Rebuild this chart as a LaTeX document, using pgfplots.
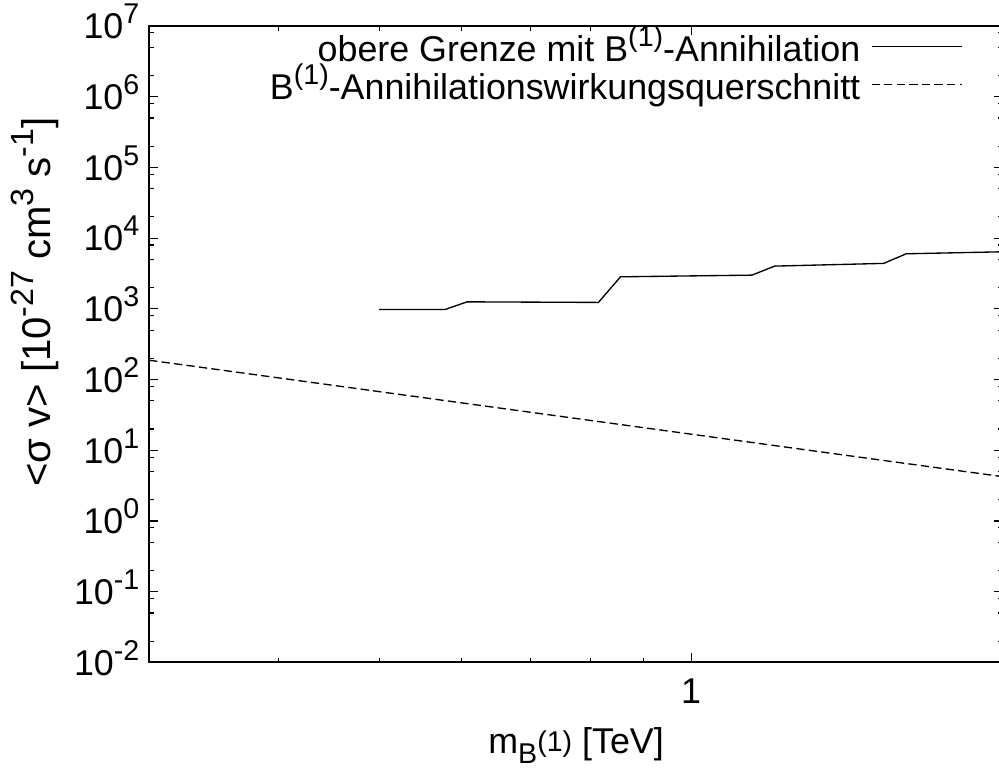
\documentclass[12pt,border=0pt]{standalone}
\usepackage{fontspec}
\setmainfont{Liberation Sans}
\usepackage{pgfplots}
\pgfplotsset{compat=1.18}
% gnuplot-like raised and lowered text
\newcommand{\sps}[1]{\raisebox{0.42em}{\fontsize{10.7pt}{11pt}\selectfont #1}}
\newcommand{\sbs}[1]{\raisebox{-0.28em}{\fontsize{10.7pt}{11pt}\selectfont #1}}
\newcommand{\spl}[1]{\raisebox{0.42em}{\fontsize{12pt}{13pt}\selectfont #1}}

\begin{document}
\fontsize{13.4pt}{16pt}\selectfont
\begin{tikzpicture}
\begin{axis}[
  scale only axis, width=319.5pt, height=238.1pt,
  xmode=log, ymode=log,
  xmin=0.3, xmax=2, ymin=1e-2, ymax=1e7,
  xtick={1}, xticklabels={1},
  minor xtick={0.4,0.5,0.6,0.7,0.8,0.9,2},
  ytick={1e-2,1e-1,1,10,100,1e3,1e4,1e5,1e6,1e7},
  yticklabels={10\sps{-2},10\sps{-1},10\sps{0},10\sps{1},10\sps{2},10\sps{3},10\sps{4},10\sps{5},10\sps{6},10\sps{7}},
  minor ytick={2e-2,5e-2,8e-2,2e-1,5e-1,8e-1,2,5,8,20,50,80,200,500,800,2e3,5e3,8e3,2e4,5e4,8e4,2e5,5e5,8e5,2e6,5e6,8e6},
  major tick length=3.5pt, minor tick length=1.7pt,
  tick style={black, line width=0.4pt},
  axis line style={line width=0.75pt},
  yticklabel style={anchor=base east, yshift=-4.8pt, xshift=1pt},
  xticklabel style={yshift=-1.5pt},
  xlabel={m\sbs{B\sps{(1)}} [TeV]},
  ylabel={\fontsize{15pt}{17pt}\selectfont <σ v> [10\spl{-27} cm\spl{3} s\spl{-1}]},
  xlabel style={at={(axis description cs:0.5,-0.13)}, anchor=center},
  ylabel style={at={(axis description cs:-0.134,0.566)}, anchor=center},
  legend style={draw=none, fill=none, at={(rel axis cs:1,1)}, anchor=north east,
    xshift=-12pt, yshift=4.25pt, row sep=-5.2pt, column sep=2pt},
  legend cell align=right,
  legend plot pos=right,
  legend image code/.code={\draw[#1] (0pt,0pt) -- (33.7pt,0pt);},
]
% upper limit from the B(1) annihilation search
\addplot[black, line width=0.5pt] coordinates {
  (0.500,980) (0.579,980) (0.608,1257) (0.814,1233) (0.855,2840)
  (1.145,3000) (1.204,4025) (1.534,4395) (1.613,6010) (2.0,6415)
};
\addlegendentry{obere Grenze mit B\sps{(1)}-Annihilation}
% predicted annihilation cross section
\addplot[black, line width=0.5pt, dash pattern=on 3.1pt off 1.6pt] coordinates {
  (0.3,187.8) (0.5,67.6) (0.8,26.4) (1,16.9) (1.5,7.51) (2,4.23)
};
\addlegendentry{B\sps{(1)}-Annihilationswirkungsquerschnitt}
\end{axis}
\pgfresetboundingbox
\path ([shift={(-55.8pt,-40.2pt)}]current axis.south west) rectangle ([shift={(-1.5pt,9.74pt)}]current axis.north east);
\end{tikzpicture}
\end{document}
